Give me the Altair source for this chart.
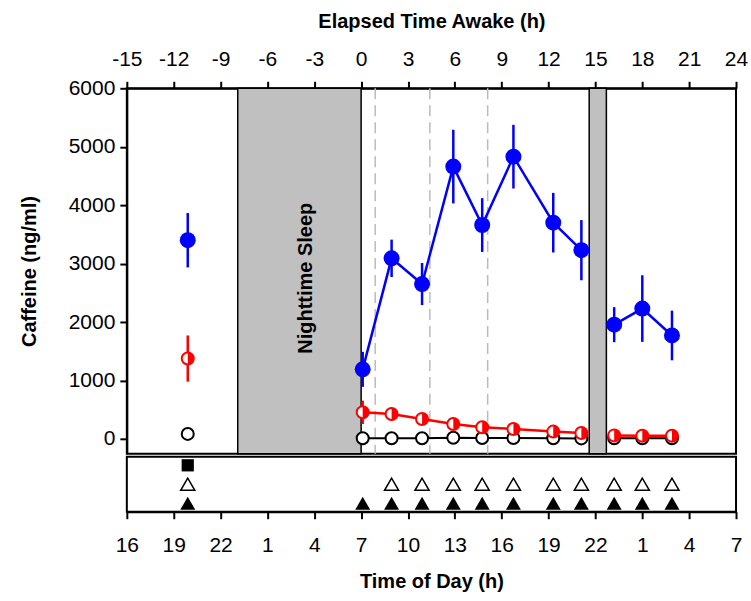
import altair as alt
import pandas as pd

FONT = "Liberation Sans"

# ---------------- data ----------------
# elapsed time awake (h) of each blood sample
hours = [-11.1, 0.1, 1.95, 3.9, 5.9, 7.75, 9.75, 12.3, 14.1, 16.2, 18.0, 19.9]
segment = ["baseline"] + ["day"] * 8 + ["night"] * 3

blue_mean = [3400, 1190, 3090, 2650, 4660, 3660, 4830, 3700, 3230, 1955, 2230, 1770]
blue_err = [465, 300, 320, 360, 630, 460, 545, 510, 515, 300, 570, 425]
red_mean = [1375, 455, 425, 340, 255, 200, 170, 125, 100, 60, 55, 55]
red_err = [395, 200, 110, 80, 60, 50, 45, 40, 35, 30, 30, 30]
black_mean = [85, 10, 12, 12, 20, 15, 15, 10, 8, 10, 10, 10]

sleep_start = [-7.9, 14.6]
sleep_end = [0.0, 15.7]
sleep_label = ["Nighttime Sleep", ""]
sleep_label_level = [2750, 2750]
dose_hours = [0.9, 4.4, 8.1]

square_hours = [-11.1]
open_tri_hours = [-11.1, 1.95, 3.9, 5.9, 7.75, 9.75, 12.3, 14.1, 16.2, 18.0, 19.9]
filled_tri_hours = [-11.1, 0.1, 1.95, 3.9, 5.9, 7.75, 9.75, 12.3, 14.1, 16.2, 18.0, 19.9]

elapsed_ticks = [-15, -12, -9, -6, -3, 0, 3, 6, 9, 12, 15, 18, 21, 24]
conc_ticks = [0, 1000, 2000, 3000, 4000, 5000, 6000]

# ---------------- tables ----------------
def series_df(mean, err):
    return pd.DataFrame({
        "hour": hours, "seg": segment, "mean": mean,
        "lo": [m - e for m, e in zip(mean, err)],
        "hi": [m + e for m, e in zip(mean, err)],
    })

blue_df = series_df(blue_mean, blue_err)
red_df = series_df(red_mean, red_err)
black_df = pd.DataFrame({"hour": hours, "seg": segment, "mean": black_mean})

sleep_df = pd.DataFrame({"start": sleep_start, "end": sleep_end,
                         "label": sleep_label, "ly": sleep_label_level})
sleep_df["mid"] = (sleep_df["start"] + sleep_df["end"]) / 2
dose_df = pd.DataFrame({"hour": dose_hours})

strip_df = pd.concat([
    pd.DataFrame({"hour": square_hours, "row": "square"}),
    pd.DataFrame({"hour": open_tri_hours, "row": "open"}),
    pd.DataFrame({"hour": filled_tri_hours, "row": "filled"}),
], ignore_index=True)

# ---------------- scales / axes ----------------
xs = alt.Scale(domain=[-15, 24], nice=False, zero=False)
ys = alt.Scale(domain=[-255, 6000], nice=False, zero=False)

top_axis = alt.Axis(orient="top", values=elapsed_ticks, title="Elapsed Time Awake (h)",
                    labelExpr="'' + datum.value",
                    tickSize=7, labelPadding=12, titlePadding=17, grid=False, labelFlush=False)
left_axis = alt.Axis(values=conc_ticks, title="Caffeine (ng/ml)", format="d", tickSize=7,
                     labelPadding=5, titlePadding=29, grid=False)
bottom_axis = alt.Axis(orient="bottom", values=elapsed_ticks, title="Time of Day (h)",
                       labelExpr="'' + ((datum.value + 31) % 24)", tickSize=7,
                       labelPadding=16, titlePadding=16, grid=False, labelFlush=False)


def X(f):
    return alt.X(f"{f}:Q", scale=xs, axis=top_axis)


def Y(f):
    return alt.Y(f"{f}:Q", scale=ys, axis=left_axis)


BLUE = "#0000FF"
RED = "#FF0000"
GRAY = "#C0C0C0"

rects = alt.Chart(sleep_df).mark_rect(fill=GRAY, stroke="black", strokeWidth=1.5).encode(
    x=X("start"), x2="end")
doses = alt.Chart(dose_df).mark_rule(color="#BBBBBB", strokeDash=[11, 6], strokeWidth=1.5).encode(
    x=X("hour"))
label = alt.Chart(sleep_df).mark_text(angle=270, font=FONT, fontSize=20, fontWeight="bold",
                                      baseline="middle", align="center", color="black",
                                      dy=7).encode(
    x=X("mid"), y=Y("ly"), text="label:N")

black_line = alt.Chart(black_df).mark_line(color="black", strokeWidth=2).encode(
    x=X("hour"), y=Y("mean"), detail="seg:N")
black_pts = alt.Chart(black_df).mark_point(shape="circle", filled=True, fill="white",
                                           stroke="black", strokeWidth=2, size=144, opacity=1).encode(
    x=X("hour"), y=Y("mean"))

red_err_r = alt.Chart(red_df).mark_rule(color=RED, strokeWidth=2.5).encode(
    x=X("hour"), y=Y("lo"), y2="hi")
red_line = alt.Chart(red_df).mark_line(color=RED, strokeWidth=2.5).encode(
    x=X("hour"), y=Y("mean"), detail="seg:N")
red_pts = alt.Chart(red_df).mark_point(shape="circle", filled=True, fill="white",
                                       stroke=RED, strokeWidth=2, size=144, opacity=1).encode(
    x=X("hour"), y=Y("mean"))
red_half = alt.Chart(red_df).mark_point(shape="M0,-1A1,1,0,0,1,0,1Z", filled=True, fill=RED,
                                        strokeWidth=0, size=144, opacity=1).encode(
    x=X("hour"), y=Y("mean"))

blue_err_r = alt.Chart(blue_df).mark_rule(color=BLUE, strokeWidth=2.5).encode(
    x=X("hour"), y=Y("lo"), y2="hi")
blue_line = alt.Chart(blue_df).mark_line(color=BLUE, strokeWidth=2.5).encode(
    x=X("hour"), y=Y("mean"), detail="seg:N")
blue_pts = alt.Chart(blue_df).mark_point(shape="circle", filled=True, fill=BLUE,
                                         size=256, opacity=1).encode(
    x=X("hour"), y=Y("mean"))

main = alt.layer(rects, doses, label, black_line, black_pts, red_err_r, red_line, red_pts,
                 red_half, blue_err_r, blue_line, blue_pts).properties(width=610, height=366)

SX = alt.X("hour:Q", scale=xs, axis=bottom_axis)
SY = alt.Y("row:N", scale=alt.Scale(type="point", domain=["square", "open", "filled"], padding=0.45),
           axis=None)

sq = alt.Chart(strip_df).transform_filter(alt.datum.row == "square").mark_point(
    shape="square", filled=True, fill="black", size=150, opacity=1).encode(x=SX, y=SY)
otri = alt.Chart(strip_df).transform_filter(alt.datum.row == "open").mark_point(
    shape="triangle-up", filled=True, fill="white", stroke="black", strokeWidth=1.5,
    size=200, opacity=1).encode(x=SX, y=SY)
ftri = alt.Chart(strip_df).transform_filter(alt.datum.row == "filled").mark_point(
    shape="triangle-up", filled=True, fill="black", size=225, opacity=1).encode(x=SX, y=SY)

strip = alt.layer(sq, otri, ftri).properties(width=610, height=55)

chart = alt.vconcat(main, strip, spacing=0).configure_view(
    stroke="black", strokeWidth=2
).configure_axis(
    labelFont=FONT, titleFont=FONT, labelFontSize=21, titleFontSize=20,
    titleFontWeight="bold", labelColor="black", titleColor="black",
    domainColor="black", tickColor="black", domainWidth=2, tickWidth=2
).properties(
    padding={"left": 18, "top": 10, "right": 2, "bottom": 5},
    background="white"
)

chart.save("out.html", embed_options={"renderer": "svg", "actions": False})
